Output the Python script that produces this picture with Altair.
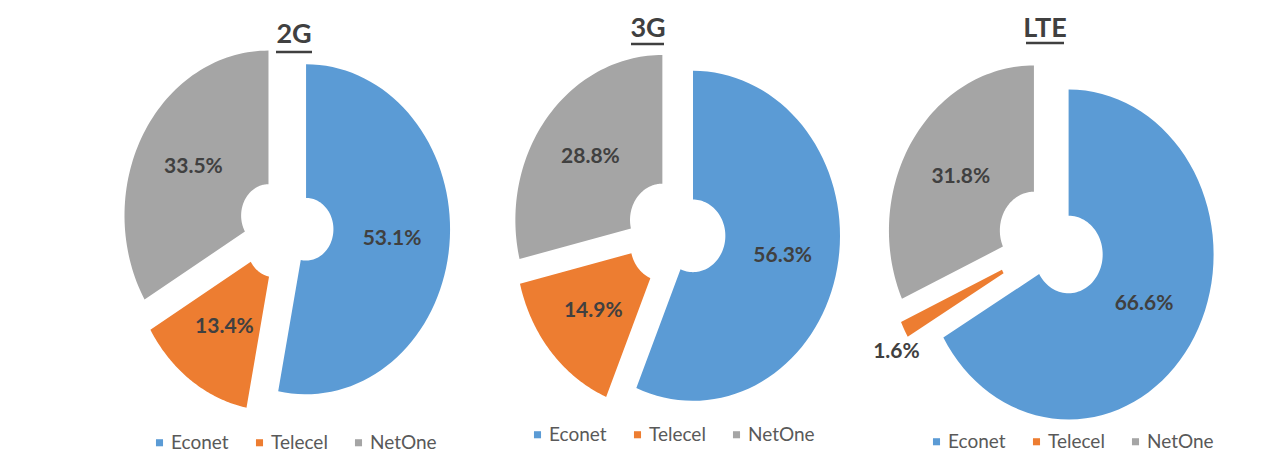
import json
import altair as alt
import pandas as pd

# ---- data ----
techs = ["2G", "3G", "LTE"]
operators = ["Econet", "Telecel", "NetOne"]
share_2g = [53.1, 13.4, 33.5]
share_3g = [56.3, 14.9, 28.8]
share_lte = [66.6, 1.6, 31.8]
colors = ["#5B9BD5", "#ED7D31", "#A5A5A5"]

rows = []
for tech, shares in zip(techs, [share_2g, share_3g, share_lte]):
    for op, s in zip(operators, shares):
        rows.append({"tech": tech, "operator": op, "share": s})
df = pd.DataFrame(rows)
title_df = pd.DataFrame({"tech": techs})

# ---- layout / styling (pixels inside the plot area) ----
W = 1266
H = 449
N = 72  # points per arc
FONT = "Lato"
layout = {
    "2G": dict(cx=278, cy=219, rx=144, ry=165, explode=0.14, hole=0.19,
               tx=286, ty=35, ux1=268, ux2=304, uy=44, lx=142, ly=425),
    "3G": dict(cx=668, cy=224, rx=147, ry=165, explode=0.118, hole=0.22,
               tx=640, ty=29, ux1=623, ux2=656, uy=36, lx=520, ly=417),
    "LTE": dict(cx=1043, cy=235, rx=145, ry=165, explode=0.14, hole=0.235,
                tx=1037, ty=29, ux1=1018, ux2=1056, uy=35, lx=919, ly=424),
}

op_js = json.dumps(operators)


def pie(tech):
    L = layout[tech]
    xdom = [-L["cx"] / L["rx"], (W - L["cx"]) / L["rx"]]
    ydom = [(L["cy"] - H) / L["ry"], L["cy"] / L["ry"]]
    xs = alt.Scale(domain=xdom, nice=False, zero=False)
    ys = alt.Scale(domain=ydom, nice=False, zero=False)

    base = (
        alt.Chart(df)
        .transform_filter(alt.datum.tech == tech)
        .transform_calculate(idx=f"indexof({op_js}, datum.operator)")
        .transform_window(cum="sum(share)", sort=[alt.SortField("idx")], frame=[None, 0])
        .transform_joinaggregate(total="sum(share)")
        .transform_calculate(
            a0="2*PI*(datum.cum - datum.share)/datum.total",
            a1="2*PI*datum.cum/datum.total",
        )
        .transform_calculate(mid="(datum.a0 + datum.a1)/2")
    )

    slices = (
        base.transform_calculate(k=f"sequence(0, {2 * N + 2})")
        .transform_flatten(["k"])
        .transform_calculate(
            ang=f"datum.k <= {N} ? datum.a0 + (datum.a1 - datum.a0)*datum.k/{N} "
                f": datum.a1 - (datum.a1 - datum.a0)*(datum.k - {N + 1})/{N}",
            rad=f"datum.k <= {N} ? 1 : {L['hole']}",
        )
        .transform_calculate(
            px=f"{L['explode']}*sin(datum.mid) + datum.rad*sin(datum.ang)",
            py=f"{L['explode']}*cos(datum.mid) + datum.rad*cos(datum.ang)",
        )
        .mark_line(filled=True, interpolate="linear")
        .encode(
            x=alt.X("px:Q", scale=xs, axis=None),
            y=alt.Y("py:Q", scale=ys, axis=None),
            color=alt.Color(
                "operator:N",
                scale=alt.Scale(domain=operators, range=colors),
                legend=alt.Legend(
                    orient="none", legendX=L["lx"], legendY=L["ly"],
                    direction="horizontal", title=None, symbolType="square",
                    symbolSize=50, symbolStrokeWidth=0, labelFont=FONT,
                    labelFontSize=19, labelColor="#595959", labelOffset=2,
                    columnPadding=21, padding=0,
                ),
            ),
            detail="operator:N",
            order=alt.Order("k:Q"),
        )
    )

    labels = (
        base.transform_calculate(lr="datum.share < 5 ? 1.2 : 0.74")
        .transform_calculate(
            lx="datum.lr*sin(datum.mid)",
            ly="datum.lr*cos(datum.mid) - (datum.share < 5 ? 0.11 : 0)",
            txt="format(datum.share, '.1f') + '%'",
        )
        .mark_text(font=FONT, fontSize=21, fontWeight="bold", color="#404040")
        .encode(
            x=alt.X("lx:Q", scale=xs, axis=None),
            y=alt.Y("ly:Q", scale=ys, axis=None),
            text="txt:N",
        )
    )

    tdata = alt.Chart(title_df).transform_filter(alt.datum.tech == tech)
    title = tdata.mark_text(
        font=FONT, fontSize=27, fontWeight="bold", color="#404040",
        baseline="alphabetic", align="center",
    ).encode(x=alt.value(L["tx"]), y=alt.value(L["ty"]), text="tech:N")
    underline = tdata.mark_rule(color="#404040", strokeWidth=2.5).encode(
        x=alt.value(L["ux1"]), x2=alt.value(L["ux2"]), y=alt.value(L["uy"])
    )

    return alt.layer(slices, labels, title, underline)


chart = (
    alt.layer(*[pie(t) for t in techs])
    .resolve_scale(color="independent", x="independent", y="independent")
    .resolve_legend(color="independent")
    .properties(width=W, height=H, padding=0, background="white")
    .configure_view(stroke=None)
)

chart.save("out.html", embed_options={"renderer": "svg", "actions": False})
